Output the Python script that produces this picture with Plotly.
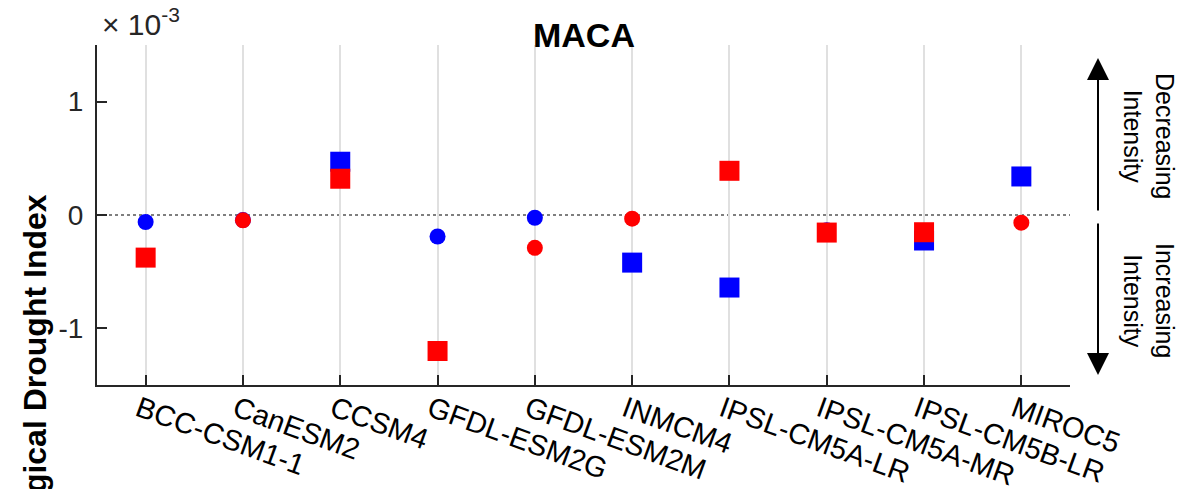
import plotly.graph_objects as go

models = ["BCC-CSM1-1", "CanESM2", "CCSM4", "GFDL-ESM2G", "GFDL-ESM2M",
          "INMCM4", "IPSL-CM5A-LR", "IPSL-CM5A-MR", "IPSL-CM5B-LR", "MIROC5"]
# values in units of 1e-3
blue_vals = [-0.062, -0.045, 0.47, -0.19, -0.024, -0.42, -0.64, -0.135, -0.225, 0.34]
red_vals = [-0.376, -0.047, 0.32, -1.20, -0.29, -0.032, 0.39, -0.155, -0.152, -0.068]
# significance flag (square marker when True)
blue_sig = [False, False, True, False, False, True, True, False, True, True]
red_sig = [True, False, True, True, False, False, True, True, True, False]
y_ticks = [-1, 0, 1]

xpos = list(range(1, len(models) + 1))
FONT = "Liberation Sans, Arial, Helvetica, sans-serif"

def symbols(sig):
    return ["square" if s else "circle" for s in sig]

def sizes(sig):
    return [20 if s else 16 for s in sig]

fig = go.Figure()
fig.add_trace(go.Scatter(x=xpos, y=blue_vals, mode="markers",
                         marker=dict(color="#0000ff", symbol=symbols(blue_sig), opacity=1,
                                     size=sizes(blue_sig), line=dict(width=0)),
                         showlegend=False, cliponaxis=False))
fig.add_trace(go.Scatter(x=xpos, y=red_vals, mode="markers",
                         marker=dict(color="#ff0000", symbol=symbols(red_sig), opacity=1,
                                     size=sizes(red_sig), line=dict(width=0)),
                         showlegend=False, cliponaxis=False))

fig.add_shape(type="line", xref="paper", yref="y", x0=0, x1=1, y0=0, y1=0,
              line=dict(color="#555555", width=1.5, dash="dot"), layer="below")

fig.update_layout(
    width=1187, height=489,
    margin=dict(l=97, r=117, t=45, b=104, autoexpand=False),
    paper_bgcolor="white", plot_bgcolor="white",
    font=dict(family=FONT, color="#262626"),
    title=dict(text="<b>MACA</b>", x=0.5005, xref="paper", xanchor="center",
               y=1 - 35 / 489, yref="container", yanchor="middle",
               font=dict(size=34, color="black", family=FONT)),
    xaxis=dict(range=[0.5, 10.5], tickvals=xpos, ticktext=models, tickangle=20,
               automargin=False, ticklabelstandoff=-6, ticklabelshift=-7,
               showgrid=True, gridcolor="#e0e0e0", gridwidth=2,
               showline=True, linecolor="#262626", linewidth=2,
               ticks="inside", ticklen=10, tickwidth=2, tickcolor="#262626",
               tickfont=dict(size=29, color="black", family=FONT),
               zeroline=False),
    yaxis=dict(range=[-1.5, 1.5], tickvals=y_ticks, ticktext=[str(v) for v in y_ticks],
               automargin=False,
               showgrid=False, zeroline=False,
               showline=True, linecolor="#262626", linewidth=2,
               ticks="inside", ticklen=10, tickwidth=2, tickcolor="#262626",
               tickfont=dict(size=28, color="#262626", family=FONT),
               ticklabelstandoff=6),
)

fig.add_annotation(text="× 10<sup>-3</sup>", xref="paper", yref="paper",
                   x=0.003, y=1.006, xanchor="left", yanchor="bottom",
                   showarrow=False, font=dict(size=30, color="#262626", family=FONT))

fig.add_annotation(text="<b>Hydrological Drought Index</b>", textangle=-90,
                   xref="paper", yref="paper", x=(35 - 97) / 973, y=(385 - 192) / 340,
                   xanchor="center", yanchor="top", showarrow=False,
                   font=dict(size=32, color="black", family=FONT))

fig.add_annotation(text="Decreasing<br>Intensity", textangle=90,
                   xref="paper", yref="paper", x=(1149 - 97) / 973, y=(385 - 136) / 340,
                   xanchor="center", yanchor="middle", showarrow=False,
                   font=dict(size=25, color="black", family=FONT))
fig.add_annotation(text="Increasing<br>Intensity", textangle=90,
                   xref="paper", yref="paper", x=(1149 - 97) / 973, y=(385 - 300) / 340,
                   xanchor="center", yanchor="middle", showarrow=False,
                   font=dict(size=25, color="black", family=FONT))

# arrows
fig.add_annotation(text="", xref="paper", yref="paper",
                   x=(1098 - 97) / 973, y=(385 - 58) / 340,
                   ax=0, ay=154, showarrow=True, arrowhead=2, arrowsize=2.2,
                   arrowwidth=2, arrowcolor="black")
fig.add_annotation(text="", xref="paper", yref="paper",
                   x=(1098 - 97) / 973, y=(385 - 375) / 340,
                   ax=0, ay=-153, showarrow=True, arrowhead=2, arrowsize=2.2,
                   arrowwidth=2, arrowcolor="black")

fig.write_html("out.html")
